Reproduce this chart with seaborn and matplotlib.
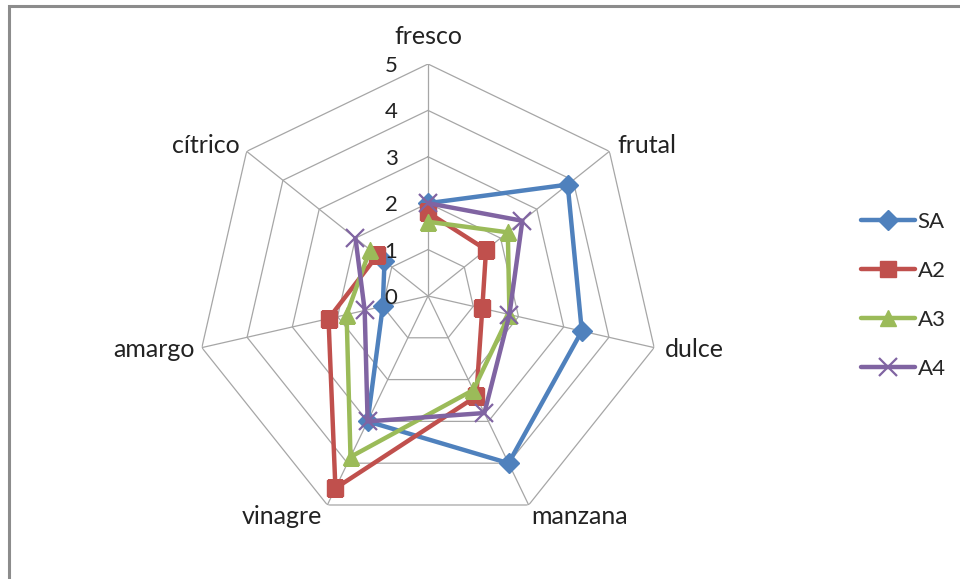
import numpy as np
import pandas as pd
import seaborn as sns
import matplotlib
matplotlib.use("Agg")
import matplotlib.pyplot as plt
from matplotlib.patches import Rectangle

sns.set_style("white")
plt.rcParams['font.family'] = ['Lato', 'DejaVu Sans']

#%% data
categorias = ["fresco", "frutal", "dulce", "manzana", "vinagre", "amargo", "cítrico"]
series = ["SA", "A2", "A3", "A4"]
sa = [2.0, 3.85, 3.4, 4.0, 3.0, 1.0, 1.2]
a2 = [1.8, 1.6, 1.2, 2.4, 4.6, 2.2, 1.4]
a3 = [1.6, 2.2, 1.8, 2.25, 3.85, 1.8, 1.6]
a4 = [2.0, 2.6, 1.8, 2.8, 3.0, 1.4, 2.0]
valores = [sa, a2, a3, a4]
niveles = [0, 1, 2, 3, 4, 5]

colores = ["#4F81BD", "#C0504D", "#9BBB59", "#8064A2"]
marcadores = ["D", "s", "^", "x"]
tam_marcador = [10, 12, 12, 13]

# label offsets (pixels from the outer vertex) and alignment, excel style
off_etiq = [(0, 28, "center"), (8, 6, "left"), (11, -2, "left"), (3, -12, "left"),
            (-5, -12, "right"), (-7, -2, "right"), (-7, 6, "right")]

n = len(categorias)
angulos = np.arange(n) * 2 * np.pi / n
ang_cerrado = np.append(angulos, angulos[0])

#%% figure
fig = plt.figure(figsize=(9.6, 5.79), dpi=100)
ax = fig.add_axes([0.2042, 0.0881, 0.4833, 0.8014], projection="polar")
ax.set_theta_zero_location("N")
ax.set_theta_direction(-1)
ax.set_facecolor("none")
ax.grid(False)
ax.spines["polar"].set_visible(False)
ax.set_ylim(0, 5)

# polygon grid like excel radar
gris = "#a6a6a6"
for lvl in niveles[1:]:
    ax.plot(ang_cerrado, [lvl] * (n + 1), color=gris, lw=0.9, zorder=1)
for a in angulos:
    ax.plot([a, a], [0, 5], color=gris, lw=0.9, zorder=1)

# series
for nombre, vals, col, mk, ms in zip(series, valores, colores, marcadores, tam_marcador):
    df = pd.DataFrame({"ang": ang_cerrado, "valor": vals + [vals[0]]})
    sns.lineplot(data=df, x="ang", y="valor", sort=False, ax=ax, color=col,
                 lw=3.2, marker=mk, markersize=ms, markeredgecolor=col,
                 markeredgewidth=1.6 if mk == "x" else 1, label=nombre, zorder=3)

handles, labels = ax.get_legend_handles_labels()
ax.get_legend().remove()

ax.set_xlabel("")
ax.set_ylabel("")
ax.set_xticks([])
ax.set_yticks([])

for a, cat, (dx, dy, ha) in zip(angulos, categorias, off_etiq):
    ax.annotate(cat, xy=(a, 5), xytext=(dx, dy), textcoords="offset pixels",
                ha=ha, va="center", fontsize=18, color="#222222")

for lvl in niveles:
    ax.annotate(str(lvl), xy=(0, lvl), xytext=(-37, -2), textcoords="offset pixels",
                ha="center", va="center", fontsize=16, color="#222222")

fig.legend(handles, labels, loc="center left", bbox_to_anchor=(0.876, 0.49),
           frameon=False, fontsize=16, handlelength=2.45, handletextpad=0.1,
           labelspacing=1.3)

# chart area border (partly outside the picture)
fig.patches.append(Rectangle((9 / 960, -0.1), 1.2, 1.1 - 6 / 579, transform=fig.transFigure,
                             fill=False, edgecolor="#8c8c8c", lw=2.2))

fig.savefig("out.png", dpi=100)
